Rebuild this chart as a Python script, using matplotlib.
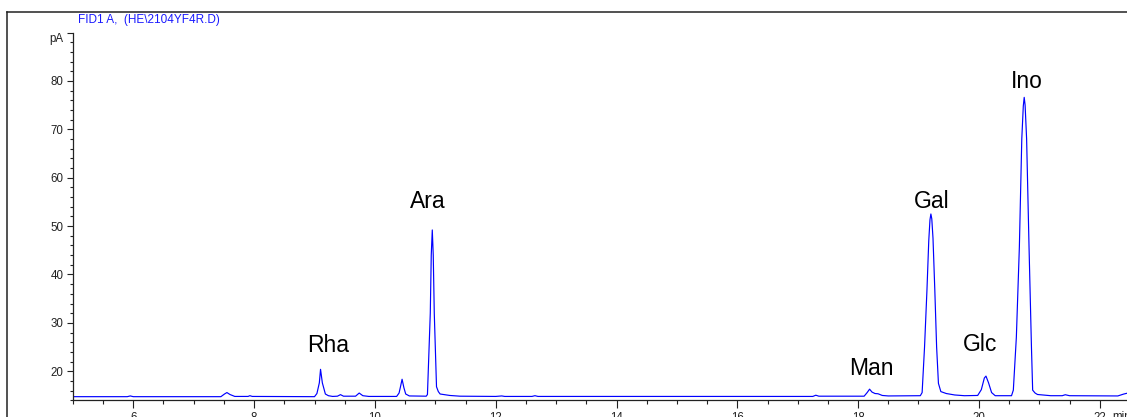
import matplotlib
matplotlib.use("Agg")
import matplotlib.pyplot as plt
from matplotlib.lines import Line2D
from matplotlib.ticker import MultipleLocator, FixedLocator

plt.rcParams['font.family'] = ['Liberation Sans', 'DejaVu Sans']

# ---- data ----
time_min = [5.0, 5.9, 5.95, 6.0, 7.45, 7.51, 7.55, 7.6, 7.68, 7.9, 7.93, 7.97,
            9.0, 9.04, 9.08, 9.10, 9.13, 9.18, 9.23, 9.3, 9.38, 9.43, 9.48,
            9.68, 9.74, 9.8, 9.9, 10.36, 10.40, 10.42, 10.45, 10.48, 10.51, 10.57,
            10.85, 10.87, 10.917, 10.933, 10.95, 10.966, 10.983, 11.02, 11.05, 11.08,
            11.24, 11.41, 12.0, 12.1, 12.15, 12.6, 12.65, 12.7,
            17.25, 17.3, 17.35, 18.1, 18.15, 18.19, 18.23, 18.28, 18.33, 18.4, 18.5,
            19.03, 19.06, 19.10, 19.14, 19.17, 19.19, 19.205, 19.22, 19.24, 19.27,
            19.30, 19.33, 19.37, 19.46, 19.6, 19.76, 19.98, 20.04, 20.09, 20.117,
            20.16, 20.21, 20.27, 20.54, 20.57, 20.62, 20.67, 20.71, 20.735, 20.75,
            20.765, 20.79, 20.83, 20.87, 20.89, 20.93, 20.97, 21.19, 21.38, 21.43,
            21.5, 22.3, 22.4, 22.5]
signal_pA = [14.75, 14.75, 14.9, 14.75, 14.75, 15.3, 15.6, 15.2, 14.8, 14.8, 14.95, 14.8,
             14.75, 15.4, 17.6, 20.4, 17.6, 15.3, 14.95, 14.8, 14.85, 15.17, 14.85,
             14.85, 15.5, 14.95, 14.8, 14.8, 15.5, 16.6, 18.35, 16.6, 15.3, 14.9,
             14.85, 15.2, 32.0, 44.0, 49.2, 44.0, 32.0, 16.8, 15.8, 15.3,
             15.0, 14.85, 14.8, 14.9, 14.8, 14.8, 14.95, 14.8,
             14.8, 15.05, 14.85, 14.85, 15.6, 16.3, 15.7, 15.4, 15.35, 15.0, 14.9,
             14.95, 15.6, 25.0, 36.8, 47.0, 51.3, 52.5, 51.5, 47.5, 36.8,
             25.0, 17.5, 15.8, 15.4, 15.1, 14.95, 15.0, 16.2, 18.6, 19.0,
             17.6, 15.6, 14.95, 14.95, 16.1, 27.0, 45.7, 68.0, 74.8, 76.6,
             75.0, 68.0, 45.7, 25.0, 16.1, 15.5, 15.2, 14.95, 14.95, 15.15,
             14.95, 14.9, 15.3, 15.6]

peak_names = ["Rha", "Ara", "Man", "Gal", "Glc", "Ino"]
label_time = [9.23, 10.87, 18.22, 19.22, 20.02, 20.79]
label_pA = [24.05, 53.74, 19.24, 53.74, 24.2, 78.47]

x_major = [6, 8, 10, 12, 14, 16, 18, 20, 22]
y_major = [20, 30, 40, 50, 60, 70, 80, 90]
y_labels = ["20", "30", "40", "50", "60", "70", "80", ""]

title = "FID1 A,  (HE\\2104YF4R.D)"

# ---- figure ----
W, H = 1127, 417
fig = plt.figure(figsize=(W / 100, H / 100), dpi=100)
fig.patch.set_facecolor("white")

ax_left, ax_right = 72.9, 72.9 + 17.5 * 60.4
ax_bottom, ax_top = 400.3, 32.5
ax = fig.add_axes([ax_left / W, (H - ax_bottom) / H,
                   (ax_right - ax_left) / W, (ax_bottom - ax_top) / H])

ax.plot(time_min, signal_pA, color="#0000ff", lw=0.85, solid_joinstyle="round")

ax.set_xlim(5.0, 22.5)
ax.set_ylim(14, 90)

for s in ("top", "right"):
    ax.spines[s].set_visible(False)
for s in ("left", "bottom"):
    ax.spines[s].set_linewidth(0.9)
    ax.spines[s].set_color("#222222")

ax.xaxis.set_major_locator(FixedLocator(x_major))
ax.xaxis.set_minor_locator(MultipleLocator(0.5))
ax.set_xticklabels([str(v) for v in x_major])
ax.yaxis.set_major_locator(FixedLocator(y_major))
ax.yaxis.set_minor_locator(MultipleLocator(2))
ax.set_yticklabels(y_labels)

ax.tick_params(axis="x", which="major", length=5.8, width=0.8, pad=2.3,
               labelsize=8.3, colors="#222222", direction="out")
ax.tick_params(axis="x", which="minor", length=2.9, width=0.8, direction="out",
               colors="#222222")
ax.tick_params(axis="y", which="major", length=4.3, width=0.8, pad=2.6,
               labelsize=8.3, colors="#222222", direction="out")
ax.tick_params(axis="y", which="minor", length=2.2, width=0.8, direction="out",
               colors="#222222")

for name, t, v in zip(peak_names, label_time, label_pA):
    ax.text(t, v, name, ha="center", va="baseline", fontsize=16.5, color="black")

# unit labels
fig.text(63.3 / W, (H - 42.3) / H, "pA", ha="right", va="baseline",
         fontsize=8.3, color="#222222")
fig.text(1112 / W, (H - 411.5) / H, "min", ha="left", va="top",
         fontsize=8.3, color="#222222")

# title
fig.text(78 / W, (H - 23.3) / H, title, ha="left", va="baseline",
         fontsize=8.5, color="#1a1aff")

# outer frame (left and top edges)
fig.add_artist(Line2D([7.3 / W, 7.3 / W], [0, (H - 12) / H], color="#222222", lw=1.1))
fig.add_artist(Line2D([7.3 / W, 1.0], [(H - 12) / H, (H - 12) / H], color="#222222", lw=1.1))

fig.savefig("out.png", dpi=100)
